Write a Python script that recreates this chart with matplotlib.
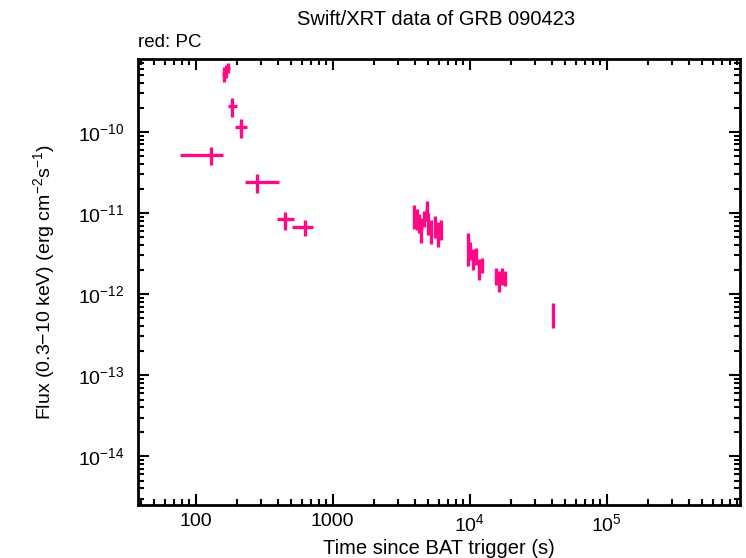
import numpy as np
import matplotlib
matplotlib.use("Agg")
import matplotlib.pyplot as plt
from matplotlib.ticker import LogLocator, FixedLocator, NullFormatter

# ─── Data ────────────────────────────────────────────────────
# early points with wide time bins
t_early     = [130, 281, 450, 630]
t_early_lo  = [77, 230, 393, 506]
t_early_hi  = [159, 406, 524, 721]
f_early     = [5.2e-11, 2.4e-11, 8.4e-12, 6.7e-12]
f_early_lo  = [3.9e-11, 1.77e-11, 6.2e-12, 5.2e-12]
f_early_hi  = [6.5e-11, 3.03e-11, 1.03e-11, 8.2e-12]

# flare / short bins
t_flare     = [161, 166, 173, 185, 215]
t_flare_lo  = [157, 160, 169, 172, 194]
t_flare_hi  = [166, 171, 178, 201, 237]
f_flare     = [5.2e-10, 5.6e-10, 6.2e-10, 2.1e-10, 1.15e-10]
f_flare_lo  = [4.1e-10, 4.6e-10, 5.3e-10, 1.53e-10, 0.84e-10]
f_flare_hi  = [6.3e-10, 6.6e-10, 7.1e-10, 2.6e-10, 1.45e-10]

# later orbits
t_late = [3935, 4100, 4270, 4450, 4650, 4850, 5000, 5250, 5550, 5850, 6150,
          9750, 10100, 10600, 11150, 11700, 12300,
          15600, 16400, 17250, 18150,
          40800]
t_late_err = [80, 80, 80, 90, 90, 90, 90, 100, 100, 110, 110,
              150, 150, 150, 150, 150, 150,
              300, 300, 300, 300,
              400]
f_late = [9.4e-12, 8.7e-12, 7.7e-12, 6.5e-12, 8.7e-12, 1.09e-11, 7.7e-12,
          6.2e-12, 7.1e-12, 5.8e-12, 6.5e-12,
          3.9e-12, 3.5e-12, 2.8e-12, 3.0e-12, 2.1e-12, 2.3e-12,
          1.7e-12, 1.5e-12, 1.7e-12, 1.6e-12,
          5.8e-13]
f_late_err = [3.0e-12, 2.6e-12, 2.1e-12, 2.2e-12, 2.0e-12, 3.0e-12, 2.3e-12,
              2.0e-12, 2.2e-12, 2.0e-12, 1.8e-12,
              1.7e-12, 0.9e-12, 0.8e-12, 0.7e-12, 0.6e-12, 0.5e-12,
              0.4e-12, 0.45e-12, 0.4e-12, 0.35e-12,
              2.0e-13]

COL = "#ff0a85"

plt.rcParams.update({
    "font.family": ["Liberation Sans", "DejaVu Sans"],
    "font.size": 14,
    "mathtext.fontset": "custom",
    "mathtext.rm": "Liberation Sans",
    "mathtext.it": "Liberation Sans:italic",
})

fig = plt.figure(figsize=(7.46, 5.58), dpi=100)
ax = fig.add_axes([0.185, 0.095, 0.807, 0.799])

def draw(t, tlo, thi, f, flo, fhi):
    t = np.asarray(t); f = np.asarray(f)
    xerr = [t - np.asarray(tlo), np.asarray(thi) - t]
    yerr = [f - np.asarray(flo), np.asarray(fhi) - f]
    ax.errorbar(t, f, xerr=xerr, yerr=yerr, fmt="none",
                ecolor=COL, elinewidth=2.4, capsize=0)

draw(t_early, t_early_lo, t_early_hi, f_early, f_early_lo, f_early_hi)
draw(t_flare, t_flare_lo, t_flare_hi, f_flare, f_flare_lo, f_flare_hi)
ax.errorbar(t_late, f_late, xerr=t_late_err, yerr=f_late_err, fmt="none",
            ecolor=COL, elinewidth=2.4, capsize=0)

ax.set_xscale("log")
ax.set_yscale("log")
ax.set_xlim(38, 9.4e5)
ax.set_ylim(2.5e-15, 7.9e-10)

ax.xaxis.set_major_locator(FixedLocator([100, 1000, 1e4, 1e5]))
ax.set_xticklabels(["100", "1000", r"$10^{4}$", r"$10^{5}$"])
ax.xaxis.set_minor_locator(LogLocator(base=10, subs=np.arange(2, 10)))
ax.xaxis.set_minor_formatter(NullFormatter())
ax.yaxis.set_major_locator(FixedLocator([1e-14, 1e-13, 1e-12, 1e-11, 1e-10]))
ax.set_yticklabels([r"$10^{-14}$", r"$10^{-13}$", r"$10^{-12}$",
                    r"$10^{-11}$", r"$10^{-10}$"])
ax.yaxis.set_minor_locator(LogLocator(base=10, subs=np.arange(2, 10)))
ax.yaxis.set_minor_formatter(NullFormatter())

ax.tick_params(which="both", direction="in", top=True, right=True, width=1.5)
ax.tick_params(which="major", length=8, labelsize=14)
ax.tick_params(axis="y", which="major", pad=10)
ax.tick_params(axis="x", which="major", pad=6)
ax.tick_params(which="minor", length=4)
for s in ax.spines.values():
    s.set_linewidth(2)

ax.set_xlabel("Time since BAT trigger (s)", fontsize=14.5, labelpad=3)
ax.set_ylabel(r"Flux (0.3$-$10 keV) (erg cm$^{-2}$s$^{-1}$)", fontsize=14)
ax.yaxis.set_label_coords(-0.135, 0.5)
fig.text(0.584, 0.955, "Swift/XRT data of GRB 090423", ha="center", fontsize=14.5)
fig.text(0.185, 0.915, "red: PC", ha="left", fontsize=13.5)

fig.savefig("out.png", dpi=100)
